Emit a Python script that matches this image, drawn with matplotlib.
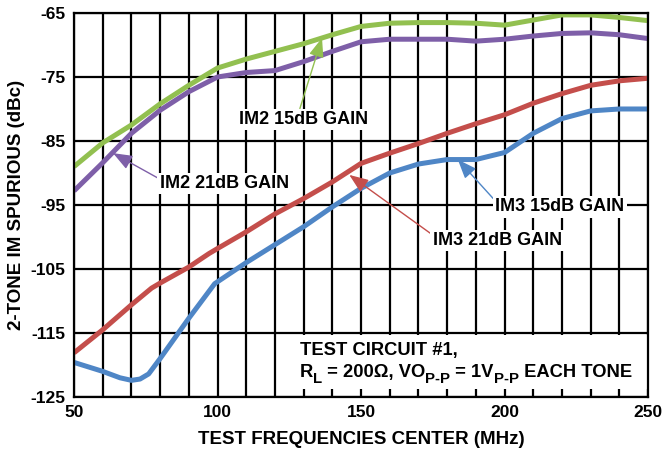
import matplotlib
matplotlib.use('Agg')
import matplotlib.pyplot as plt
from matplotlib.patches import Rectangle

plt.rcParams['font.family'] = ['Liberation Sans', 'DejaVu Sans']
plt.rcParams['font.weight'] = 'bold'
plt.rcParams['axes.unicode_minus'] = False

# frequencies (MHz)
freq = [50, 60, 70, 80, 90, 100, 110, 120, 130, 140, 150,
        160, 170, 180, 190, 200, 210, 220, 230, 240, 250]

# IM2 15dB gain (green)
im2_15 = [-89.0, -85.3, -82.5, -79.2, -76.3, -73.6, -72.2, -71.0, -69.8, -68.4, -67.1,
          -66.6, -66.5, -66.5, -66.6, -66.9, -66.1, -65.3, -65.3, -65.7, -66.2]

# IM2 21dB gain (purple)
im2_21 = [-92.8, -88.4, -83.8, -80.2, -77.3, -75.0, -74.3, -74.0, -72.6, -71.0, -69.5,
          -69.1, -69.1, -69.1, -69.4, -69.1, -68.6, -68.2, -68.1, -68.4, -69.0]

# IM3 21dB gain (red)
freq_im3_21 = [50, 60, 70, 77, 80, 90, 97, 100, 110, 120, 130, 140, 150,
               160, 170, 180, 190, 200, 210, 220, 230, 240, 250]
im3_21 = [-118.1, -114.5, -110.6, -108.0, -107.2, -104.7, -102.6, -101.8, -99.2, -96.4, -94.0, -91.4, -88.5,
          -86.9, -85.4, -83.8, -82.3, -80.9, -79.1, -77.6, -76.3, -75.6, -75.2]

# IM3 15dB gain (blue)
freq_im3_15 = [50, 60, 66, 70, 73, 76, 80, 90, 99, 110, 120, 130, 140, 150,
               160, 170, 180, 190, 200, 210, 220, 230, 240, 250]
im3_15 = [-119.6, -121.0, -122.0, -122.4, -122.2, -121.4, -119.0, -112.7, -107.3, -104.0, -101.2, -98.4, -95.3, -92.4,
          -90.0, -88.6, -87.9, -87.9, -86.8, -83.8, -81.5, -80.3, -80.0, -80.0]

# note text, split into normal and subscript pieces
note_line1 = 'TEST CIRCUIT #1,'
note_line2 = [('R', False), ('L', True), (' = 200\u03a9, VO', False), ('P-P', True),
              (' = 1V', False), ('P-P', True), (' EACH TONE', False)]

green = '#92C050'
purple = '#7E5FA8'
red = '#C44E4B'
blue = '#4F86C6'

fig = plt.figure(figsize=(6.62, 4.54), dpi=100)
ax = fig.add_axes([0.1118, 0.1256, 0.8672, 0.8458])

ax.plot(freq, im2_15, color=green, lw=3.6, solid_capstyle='butt', zorder=3)
ax.plot(freq, im2_21, color=purple, lw=3.6, solid_capstyle='butt', zorder=3)
ax.plot(freq_im3_21, im3_21, color=red, lw=3.6, solid_capstyle='butt', zorder=3)
ax.plot(freq_im3_15, im3_15, color=blue, lw=3.6, solid_capstyle='butt', zorder=3)

ax.set_xlim(50, 250)
ax.set_ylim(-125, -65)
ax.set_xticks([50, 100, 150, 200, 250])
ax.set_xticks(range(50, 251, 10), minor=True)
ax.set_yticks(range(-125, -64, 10))
ax.grid(True, which='both', axis='x', color='black', lw=1.6)
ax.grid(True, which='major', axis='y', color='black', lw=1.6)
ax.tick_params(which='both', length=0, labelsize=12.5, pad=6)
for s in ax.spines.values():
    s.set_linewidth(1.6)
    s.set_zorder(6)

ax.set_xlabel('TEST FREQUENCIES CENTER (MHz)', fontsize=13.5, fontweight='bold', labelpad=8)
ax.set_ylabel('2-TONE IM SPURIOUS (dBc)', fontsize=13.5, fontweight='bold', labelpad=4)

box = dict(facecolor='white', edgecolor='none', pad=1.5)

def label(text, xy, xytext, col, relpos):
    ax.annotate(text, xy=xy, xytext=xytext, ha='center', va='center', fontsize=13,
                fontweight='bold', bbox=box, zorder=5,
                arrowprops=dict(arrowstyle='-|>,head_length=0.9,head_width=0.35', color=col,
                                lw=1, relpos=relpos, shrinkA=0, shrinkB=0))

label('IM2 15dB GAIN', (136.4, -68.9), (129.8, -81.6), green, (0.47, 1.0))
label('IM2 21dB GAIN', (63.6, -86.9), (102.3, -91.6), purple, (0.0, 0.75))
label('IM3 15dB GAIN', (183.7, -87.9), (219.3, -95.3), blue, (0.0, 0.85))
label('IM3 21dB GAIN', (145.9, -90.3), (197.4, -100.6), red, (0.0, 0.85))

# white panel behind the test circuit note
ax.add_patch(Rectangle((127.8, -123.75), 122.2, 8.5, facecolor='white', edgecolor='none', zorder=4))
ax.text(128.6, -117.66, note_line1, ha='left', va='center', fontsize=13.2,
        fontweight='bold', zorder=5)

# second line built piece by piece so the subscripts stay large like the original
first = ax.text(128.6, -121.25, note_line2[0][0], ha='left', va='center', fontsize=13.2,
                fontweight='bold', zorder=5)
prev = first
for txt, sub in note_line2[1:]:
    prev = ax.annotate(txt, xy=(1, 0), xycoords=(prev, first),
                       xytext=(0, -3.2 if sub else 0), textcoords='offset points',
                       ha='left', va='bottom', fontsize=10.8 if sub else 13.2,
                       fontweight='bold', zorder=5)

fig.savefig('out.png', dpi=100)
